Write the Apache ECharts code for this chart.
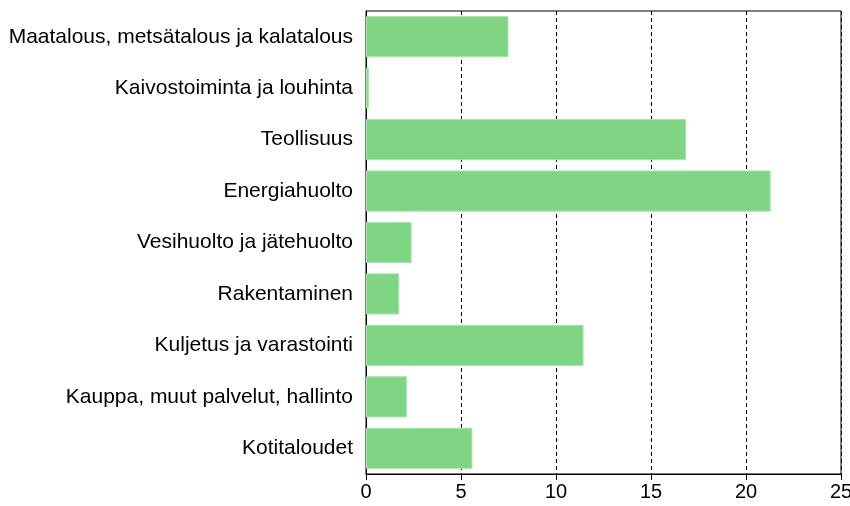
<!DOCTYPE html>
<html>
<head>
<meta charset="utf-8">
<script src="https://cdn.jsdelivr.net/npm/echarts@6/dist/echarts.min.js"></script>
<style>html,body{margin:0;padding:0;background:#fff}#c{width:850px;height:506px}</style>
</head>
<body>
<div id="c"></div>
<script>
const categories = [
  "Maatalous, metsätalous ja kalatalous",
  "Kaivostoiminta ja louhinta",
  "Teollisuus",
  "Energiahuolto",
  "Vesihuolto ja jätehuolto",
  "Rakentaminen",
  "Kuljetus ja varastointi",
  "Kauppa, muut palvelut, hallinto",
  "Kotitaloudet"
];
const values = [7.5, 0.15, 16.85, 21.3, 2.4, 1.75, 11.45, 2.15, 5.6];
const xTicks = [0, 5, 10, 15, 20, 25];

const chart = echarts.init(document.getElementById('c'), null, {renderer: 'canvas'});
const font = 'Liberation Sans, Arial, sans-serif';
chart.setOption({
  animation: false,
  grid: {left: 366, right: 9, top: 11, bottom: 32, show: true, borderColor: '#000', borderWidth: 1,
    backgroundColor: 'transparent', outerBoundsMode: 'none', containLabel: false},
  xAxis: {
    type: 'value', min: xTicks[0], max: xTicks[xTicks.length - 1], interval: 5,
    axisLine: {show: true, lineStyle: {color: '#000', width: 1}},
    axisTick: {show: true, length: 6, lineStyle: {color: '#000'}},
    axisLabel: {color: '#000', fontFamily: font, fontSize: 20, margin: 8,
      formatter: v => xTicks.includes(v) ? String(v) : ''},
    splitLine: {show: true, lineStyle: {color: '#000', type: [4, 3], width: 1}}
  },
  yAxis: {
    type: 'category', data: categories, inverse: true,
    axisLine: {show: true, onZero: false, lineStyle: {color: '#000', width: 1}},
    axisTick: {show: false},
    axisLabel: {color: '#000', fontFamily: font, fontSize: 21, margin: 13}
  },
  series: [{
    type: 'bar', data: values, barCategoryGap: '20%',
    itemStyle: {color: '#7fd584', borderColor: '#a9e5ac', borderWidth: 1}
  }]
});
</script>
</body>
</html>
